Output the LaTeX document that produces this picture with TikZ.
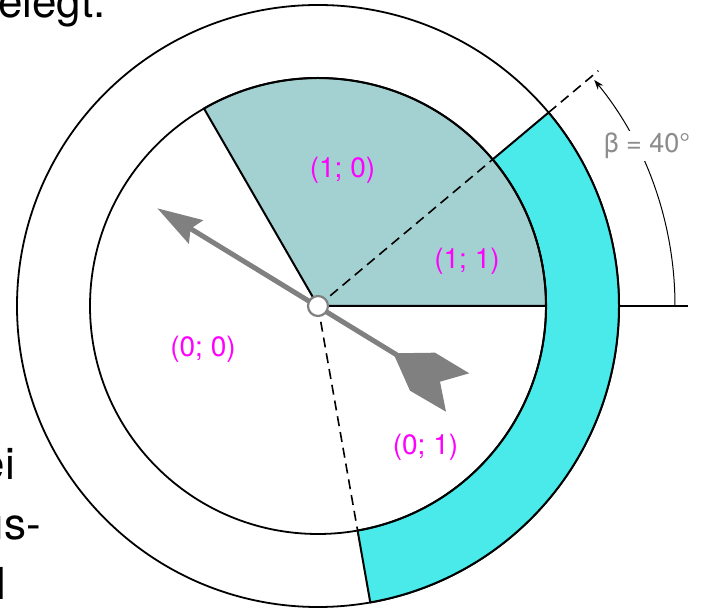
\documentclass[tikz,border=0pt]{standalone}
\usepackage{fontspec}
\setmainfont{TeX Gyre Heros}
\usetikzlibrary{arrows.meta, positioning}
\definecolor{settore}{HTML}{A3D1D1}
\definecolor{anello}{HTML}{4AEAEA}
\definecolor{codice}{RGB}{255,0,255}
\tikzset{
    ring/.style={draw=black, fill=anello, line width=2pt, line join=round},
    sector/.style={draw=black, fill=settore, line width=2pt, line join=round},
    border/.style={draw=black, line width=1.8pt},
    guide/.style={draw=black, dash pattern=on 10pt off 6pt, line width=1.6pt},
    measure/.style={draw=black, line width=1pt, -{Stealth[length=10pt, width=7pt]}},
    codelabel/.style={text=codice, font=\fontsize{28}{32}\selectfont},
    anglelabel/.style={text=black!45, fill=white, inner sep=2pt, font=\fontsize{27}{30}\selectfont},
    pointer/.style={draw=black!50, line width=5pt, -{Stealth[length=45pt, width=27pt, inset=6pt]}},
    feather/.style={fill=black!50, draw=none},
    pivot/.style={circle, draw=black!50, fill=white, line width=2.2pt, minimum size=20pt, inner sep=0pt},
    bodytext/.style={font=\fontsize{44}{52}\selectfont, inner sep=0pt}
}

\begin{document}
\begin{tikzpicture}[x=1pt, y=1pt]
    \useasboundingbox (-318,-303) rectangle (386,306);
    \clip (-318,-303) rectangle (386,306);
    \coordinate (O) at (0,0);

    % Cerchi e settori
    \draw[border] (O) circle (301);
    \draw[ring] (40:228) -- (40:301) arc[start angle=40, end angle=-80, radius=301]
        -- (-80:228) arc[start angle=-80, end angle=40, radius=228] -- cycle;
    \draw[sector] (O) -- (0:228) arc[start angle=0, end angle=120, radius=228] -- cycle;
    \draw[border] (O) circle (228);

    % Linee di riferimento
    \draw[guide] (O) -- (40:228);
    \draw[guide] (O) -- (-80:228);
    \draw[guide] (40:301) -- (40:366);
    \draw[border] (0:301) -- (0:370);

    % Angolo beta
    \draw[measure] (0:357) arc[start angle=0, end angle=39.3, radius=357];
    \node[anglelabel, anchor=base] (beta) at (329,153) {β = 40°};

    % Lancetta
    \coordinate (coda) at (92,-57);
    \coordinate (punta) at (-160.7,97.7);
    \fill[feather] (75.3,-47.3) -- (117,-46.7) -- (151.3,-67.3) -- (122,-75.7)
        -- (128,-105.7) -- (92,-84.7) -- cycle;
    \draw[pointer] (coda) -- (punta);
    \node[pivot] (perno) at (O) {};

    % Codici dei settori
    \node[codelabel] (c10) at (24.5,136) {(1; 0)};
    \node[codelabel] (c11) at (149,45) {(1; 1)};
    \node[codelabel] (c00) at (-115,-43) {(0; 0)};
    \node[codelabel] (c01) at (107.5,-141) {(0; 1)};

    % Testo a margine
    \node[bodytext, anchor=base east] (t1) at (-212,288) {elegt.};
    \node[bodytext, anchor=base east] (t2) at (-303,-174) {ei};
    \node[bodytext, anchor=base east] (t3) at (-277,-234) {us-};
    \node[bodytext, anchor=base east] (t4) at (-312,-294) {l};
\end{tikzpicture}
\end{document}
